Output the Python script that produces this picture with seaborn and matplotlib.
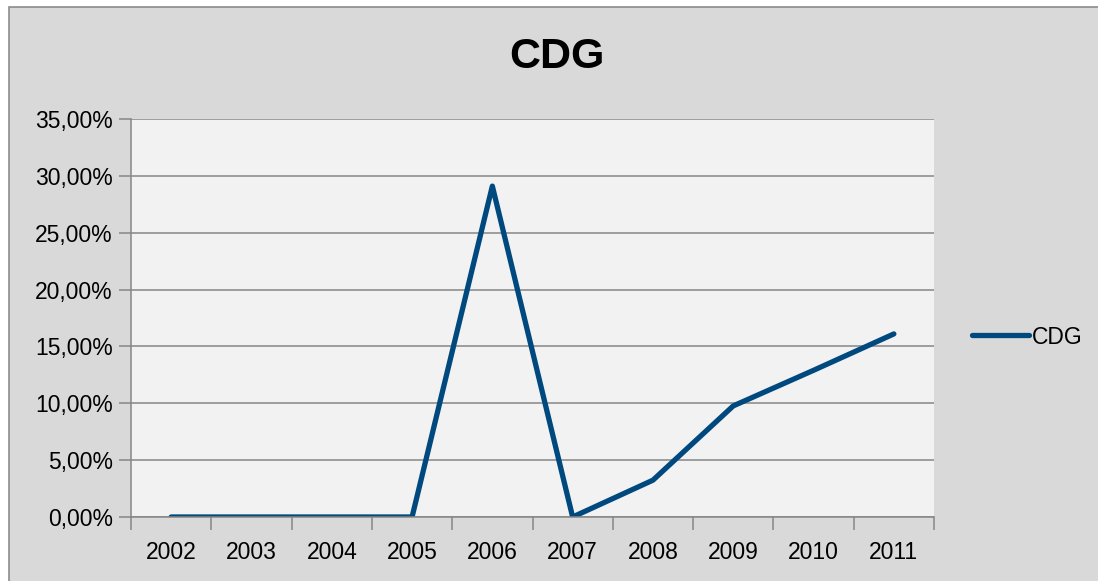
import matplotlib
matplotlib.use("Agg")
import matplotlib.pyplot as plt
import seaborn as sns
import pandas as pd
from matplotlib.patches import Rectangle
from matplotlib.ticker import FixedLocator, FuncFormatter

# data
years = ['2002', '2003', '2004', '2005', '2006', '2007', '2008', '2009', '2010', '2011']
cdg = [0.0, 0.0, 0.0, 0.0, 0.291, 0.0, 0.0324, 0.0977, 0.129, 0.161]
series_name = 'CDG'
y_ticks = [0.0, 0.05, 0.10, 0.15, 0.20, 0.25, 0.30, 0.35]

df = pd.DataFrame({'year': years, 'value': cdg, 'serie': series_name})

sns.set_style('white')
plt.rcParams['font.family'] = ['Liberation Sans Narrow', 'Liberation Sans', 'DejaVu Sans']

W, H = 1098, 581
fig = plt.figure(figsize=(W / 100, H / 100), dpi=100, facecolor='white')

# outer chart area (Excel style)
fig.patches.append(Rectangle((9 / W, -0.01), 1.02, 1 - 7 / H + 0.01, transform=fig.transFigure,
                             facecolor='#D9D9D9', edgecolor='#8C8C8C', linewidth=1.2, zorder=-5))

ax = fig.add_axes([131 / W, 1 - 517 / H, (934 - 131) / W, (517 - 119) / H])
ax.set_zorder(2)
ax.set_facecolor('#F2F2F2')

line_color = '#00497F'
sns.lineplot(data=df, x='year', y='value', hue='serie', palette=[line_color],
             linewidth=3.8, ax=ax, sort=False, legend=False)
for l in ax.lines:
    l.set_solid_capstyle('round')
    l.set_solid_joinstyle('round')

ax.set_xlim(-0.5, len(years) - 0.5)
ax.set_ylim(0, 0.35)

ax.set_yticks(y_ticks)
ax.yaxis.set_major_formatter(FuncFormatter(lambda v, p: f"{v * 100:.2f}%".replace('.', ',')))
ax.grid(axis='y', color='#868686', linewidth=1.1)
ax.set_axisbelow(True)

ax.set_xticks(range(len(years)))
ax.set_xticklabels(years)
ax.xaxis.set_minor_locator(FixedLocator([i - 0.5 for i in range(len(years) + 1)]))
ax.tick_params(axis='x', which='major', length=0, pad=17, labelsize=16.5, labelcolor='black')
ax.tick_params(axis='x', which='minor', bottom=True, length=9, width=1.1, color='#868686')
ax.tick_params(axis='y', left=True, length=9, width=1.1, color='#868686', pad=4,
               labelsize=16.5, labelcolor='black')

for s in ['top', 'right']:
    ax.spines[s].set_visible(False)
for s in ['left', 'bottom']:
    ax.spines[s].set_color('#868686')
    ax.spines[s].set_linewidth(1.1)

ax.set_xlabel('')
ax.set_ylabel('')

fig.text(557 / W, 1 - 57 / H, 'CDG', ha='center', va='center', fontsize=31,
         fontweight='bold', color='black')

# legend
handle = plt.Line2D([], [], color=line_color, linewidth=3.8, solid_capstyle='round')
leg = fig.legend([handle], [series_name], loc='center left',
                 bbox_to_anchor=(972 / W, 1 - 337 / H), bbox_transform=fig.transFigure,
                 frameon=False, fontsize=16.5, handlelength=2.5, handletextpad=0.1,
                 borderpad=0, borderaxespad=0)
for t in leg.get_texts():
    t.set_color('black')

fig.savefig('out.png', dpi=100, facecolor=fig.get_facecolor())
